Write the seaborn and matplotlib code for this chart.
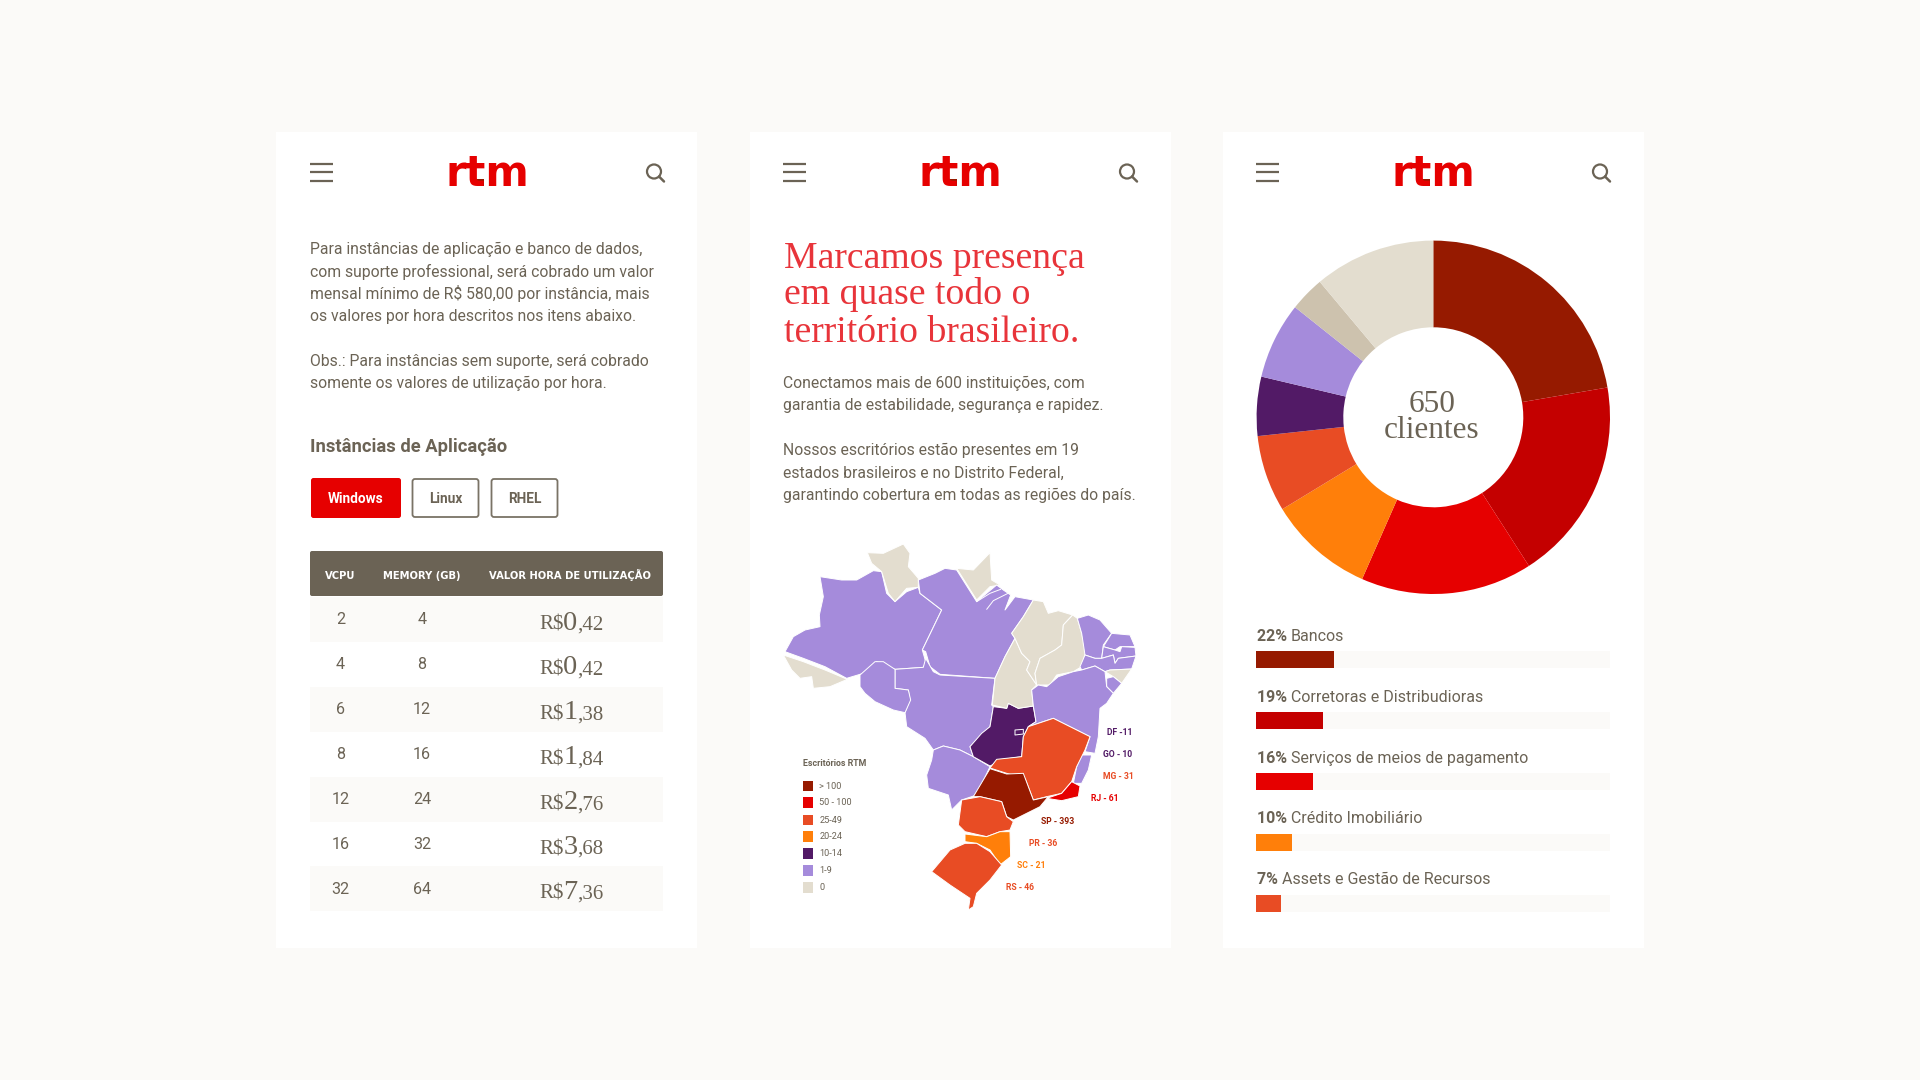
import matplotlib
matplotlib.use('Agg')

import matplotlib.pyplot as plt
import pandas as pd
import seaborn as sns
from matplotlib.patches import Circle, FancyBboxPatch, Polygon, Rectangle

# ====== 1. Colours ======
BG = "#FBFAF8"
TEXT = "#6B6355"
DEEP_RED = "#961A00"
DARK_RED = "#C40000"
RED = "#E60000"
ORANGE = "#FF7F0A"
TOMATO = "#E84C24"
PURPLE = "#521A66"
LILAC = "#A58BDB"
BEIGE = "#E3DDCF"
SAND = "#CDC2AE"

SANS = "Roboto"
SERIF = "Liberation Serif"

# ====== 2. Data ======
# panel 1, pricing table
vcpu = [2, 4, 6, 8, 12, 16, 32]
memory_gb = [4, 8, 12, 16, 24, 32, 64]
price_whole = ["0", "0", "1", "1", "2", "3", "7"]
price_cents = [",42", ",42", ",38", ",84", ",76", ",68", ",36"]
table_headers = ["VCPU", "MEMORY (GB)", "VALOR HORA DE UTILIZAÇÃO"]

# panel 3, donut and bars
donut_values = [22.3, 18.6, 15.7, 9.7, 7.0, 5.4, 7.0, 3.2, 11.1]
donut_colors = [DEEP_RED, DARK_RED, RED, ORANGE, TOMATO, PURPLE, LILAC, SAND, BEIGE]
bar_pct = [22, 19, 16, 10, 7]
bar_names = ["Bancos", "Corretoras e Distribudioras", "Serviços de meios de pagamento",
             "Crédito Imobiliário", "Assets e Gestão de Recursos"]
bar_colors = [DEEP_RED, DARK_RED, RED, ORANGE, TOMATO]

# panel 2, map legend and labels
legend_labels = ["> 100", "50 - 100", "25-49", "20-24", "10-14", "1-9", "0"]
legend_colors = [DEEP_RED, RED, TOMATO, ORANGE, PURPLE, LILAC, BEIGE]
state_labels = ["DF -11", "GO - 10", "MG - 31", "RJ - 61", "SP - 393", "PR - 36", "SC - 21", "RS - 46"]
state_label_colors = [PURPLE, PURPLE, TOMATO, RED, DEEP_RED, TOMATO, ORANGE, TOMATO]

# state outlines
AM = [(75,365),(100,320),(135,300),(180,290),(178,255),(190,200),(180,140),(245,150),(290,150),(340,122),(365,125),(380,190),(405,215),(440,185),(475,172),(480,190),(545,240),(487,360),(497,395),(490,412),(405,418),(350,395),(310,430),(260,445),(195,410),(130,385)]
AC = [(70,375),(130,395),(195,420),(262,448),(210,470),(160,475),(155,440),(120,445),(95,420)]
RR = [(322,68),(370,70),(430,42),(450,70),(445,110),(475,145),(475,172),(440,175),(405,215),(385,190),(365,125),(335,100)]
AP = [(590,115),(640,120),(690,68),(695,150),(720,165),(690,170),(650,210)]
PA = [(475,150),(525,130),(555,115),(590,120),(650,215),(680,190),(710,165),(730,180),(752,195),(735,240),(765,200),(820,210),(790,260),(755,310),(765,325),(735,380),(705,445),(540,433),(510,410),(497,365),(487,360),(545,240),(480,190)]
MT = [(405,418),(490,412),(497,385),(520,425),(540,435),(705,445),(695,525),(700,530),(690,590),(630,650),(640,680),(600,660),(550,648),(520,660),(495,625),(440,590),(435,548),(450,510),(445,480),(405,475)]
RO = [(300,435),(345,395),(370,395),(405,418),(405,475),(445,480),(452,510),(435,548),(400,540),(345,515),(315,490),(300,470)]
MS = [(520,660),(550,648),(600,660),(640,680),(690,710),(650,795),(605,810),(575,840),(565,795),(505,775),(500,735),(515,690)]
GO = [(700,530),(740,535),(745,520),(775,535),(820,528),(828,575),(805,590),(790,620),(785,680),(730,688),(690,708),(640,680),(630,650),(665,610),(690,590)]
TO = [(705,445),(735,380),(765,325),(785,370),(810,395),(800,420),(820,450),(830,465),(815,480),(820,528),(775,535),(745,520),(740,535),(697,525)]
MA = [(755,310),(790,260),(820,210),(850,215),(865,250),(895,242),(938,255),(910,285),(905,345),(885,360),(840,385),(825,430),(830,465),(820,450),(800,420),(810,395),(785,370),(765,325)]
PI = [(938,255),(952,265),(965,310),(977,365),(965,410),(940,425),(890,435),(870,465),(830,465),(825,430),(840,385),(885,360),(905,345),(910,285)]
CE = [(952,265),(985,255),(1020,270),(1055,310),(1030,345),(1025,385),(1005,385),(975,375),(965,310)]
RN = [(1055,310),(1110,315),(1125,350),(1080,350),(1065,360),(1030,350)]
PB = [(1030,350),(1065,360),(1080,365),(1085,350),(1125,352),(1128,378),(1075,385),(1065,400),(1060,375),(1025,385)]
PE = [(975,375),(1005,385),(1025,385),(1060,375),(1065,400),(1075,385),(1128,378),(1115,417),(1050,420),(1035,425),(1005,408),(965,420),(960,410)]
AL = [(1035,425),(1050,420),(1115,417),(1085,460),(1060,440)]
SE = [(1040,445),(1060,440),(1085,460),(1060,490),(1040,470)]
BA = [(815,480),(835,465),(860,470),(895,440),(940,425),(965,420),(1005,408),(1035,425),(1040,470),(1060,490),(1040,520),(1020,535),(1015,620),(1005,670),(975,665),(990,620),(930,590),(880,565),(805,590),(828,575),(820,528)]
ES = [(965,675),(995,675),(985,720),(965,760),(940,760),(950,710)]
MG = [(805,590),(880,565),(930,590),(990,620),(975,660),(950,710),(935,755),(905,790),(860,800),(820,810),(795,745),(740,730),(690,714),(710,688),(785,680),(790,620)]
RJ = [(935,755),(960,768),(955,800),(905,812),(860,805),(905,790)]
SP = [(640,800),(690,716),(740,732),(790,730),(820,810),(865,800),(840,830),(800,850),(760,870),(740,860),(725,815),(660,800)]
PR = [(605,810),(660,800),(725,815),(740,860),(760,875),(750,900),(720,905),(680,920),(615,905),(595,885)]
SC = [(615,912),(680,920),(720,905),(750,905),(752,980),(720,1005),(690,960),(650,940),(615,935)]
RS = [(615,940),(650,940),(690,965),(725,1005),(690,1050),(650,1090),(640,1130),(625,1140),(630,1105),(570,1065),(515,1025),(570,960)]
DF = [(765,600),(790,598),(790,612),(765,615)]

state_shapes = [AM, AC, RR, AP, PA, MT, RO, MS, GO, TO, MA, PI, CE, RN, PB, PE, AL, SE, BA, ES, MG, RJ, SP, PR, SC, RS, DF]
state_colors = [LILAC, BEIGE, BEIGE, BEIGE, LILAC, LILAC, LILAC, LILAC, PURPLE, BEIGE, BEIGE, BEIGE,
                LILAC, LILAC, LILAC, LILAC, BEIGE, LILAC, LILAC, LILAC, TOMATO, RED, DEEP_RED,
                TOMATO, ORANGE, TOMATO, PURPLE]
river_a = [(650,215),(690,190),(722,178)]
river_b = [(680,238),(700,212),(748,188)]

# text blocks
para_1 = ["Para instâncias de aplicação e banco de dados,",
          "com suporte professional, será cobrado um valor",
          "mensal mínimo de R$ 580,00 por instância, mais",
          "os valores por hora descritos nos itens abaixo."]
para_2 = ["Obs.: Para instâncias sem suporte, será cobrado",
          "somente os valores de utilização por hora."]
title_lines = ["Marcamos presença", "em quase todo o", "território brasileiro."]
para_3 = ["Conectamos mais de 600 instituições, com",
          "garantia de estabilidade, segurança e rapidez."]
para_4 = ["Nossos escritórios estão presentes em 19",
          "estados brasileiros e no Distrito Federal,",
          "garantindo cobertura em todas as regiões do país."]

# ====== 3. Figure and pixel canvas ======
sns.set_theme(style="white")
fig = plt.figure(figsize=(19.2, 10.8), dpi=100, facecolor=BG)
page = fig.add_axes([0, 0, 1, 1])
page.set_xlim(0, 1920)
page.set_ylim(1080, 0)
page.axis("off")
renderer = fig.canvas.get_renderer()


def px_axes(x0, y0, x1, y1):
    # axes from pixel corners, y counted from the top
    return fig.add_axes([x0 / 1920, 1 - y1 / 1080, (x1 - x0) / 1920, (y1 - y0) / 1080])


def put(x, y, s, size=11.35, color=TEXT, family=SANS, weight="normal", ha="left"):
    return page.text(x, y, s, fontsize=size, color=color, family=family, weight=weight,
                     ha=ha, va="baseline")


def put_run(x, y, parts):
    # several sizes/weights on one baseline
    for s, kw in parts:
        t = put(x, y, s, **kw)
        x = t.get_window_extent(renderer).x1


# ====== 4. White panels with header ======
for i, dx in enumerate([0, 473, 946]):
    page.add_patch(Rectangle((276 + i * 473.5, 132), 421, 816, fc="white", ec="none"))
    for y in [163.5, 172, 180.5]:
        page.plot([310 + dx, 332.5 + dx], [y, y], color=TEXT, lw=1.6, solid_capstyle="butt")
    page.add_patch(Circle((654 + dx, 171.5), 7, fc="none", ec=TEXT, lw=1.6))
    page.plot([659 + dx, 664 + dx], [176.5, 181.5], color=TEXT, lw=1.8)
    put(487.5 + dx, 185.5, "rtm", size=30, color=RED, family="DejaVu Sans", weight="bold", ha="center")
    page.add_patch(Rectangle((477 + dx, 179), 7, 6.5, fc=DEEP_RED, ec="none"))

# ====== 5. Panel 1: text, buttons, table ======
for y, line in zip([254, 276.5, 299, 321.5], para_1):
    put(310, y, line)
for y, line in zip([366, 388], para_2):
    put(310, y, line)
put(310, 451.5, "Instâncias de Aplicação", size=13.2, weight="bold")

page.add_patch(FancyBboxPatch((311, 478), 90, 40, boxstyle="round,pad=0,rounding_size=2.5", fc=RED, ec="none"))
page.add_patch(FancyBboxPatch((412.5, 479), 66, 38, boxstyle="round,pad=0,rounding_size=2.5", fc="white", ec="#7A7366", lw=1.3))
page.add_patch(FancyBboxPatch((491.5, 479), 66, 38, boxstyle="round,pad=0,rounding_size=2.5", fc="white", ec="#7A7366", lw=1.3))
put(355.5, 503, "Windows", size=9.8, color="white", weight="bold", ha="center")
put(445.5, 503, "Linux", size=9.8, weight="bold", ha="center")
put(524.5, 503, "RHEL", size=9.8, weight="bold", ha="center")

page.add_patch(FancyBboxPatch((310, 551), 353, 45, boxstyle="round,pad=0,rounding_size=2", fc=TEXT, ec="none"))
for cx, head in zip([340.5, 422, 570], table_headers):
    put(cx, 579, head, size=7.2, color="white", family="DejaVu Sans", weight="bold", ha="center")

row_top = 597
row_h = 44.9
for i in range(len(vcpu)):
    y0 = row_top + i * row_h
    if i % 2 == 0:
        page.add_patch(Rectangle((310, y0), 353, row_h, fc=BG, ec="none"))
    put(340.5, y0 + 27.5, str(vcpu[i]), size=11.6, ha="center")
    put(422, y0 + 27.5, str(memory_gb[i]), size=11.6, ha="center")
    put_run(539, y0 + 32.5, [("R$", dict(size=15, family=SERIF)),
                             (price_whole[i], dict(size=20.5, family=SERIF)),
                             (price_cents[i], dict(size=15, family=SERIF))])

# ====== 6. Panel 2: title, text, map ======
for y, line in zip([267.5, 304, 341.5], title_lines):
    put(784, y, line, size=27.2, color="#E8343A", family=SERIF)
for y, line in zip([388, 410], para_3):
    put(783, y, line)
for y, line in zip([455, 477.5, 500], para_4):
    put(783, y, line)

map_ax = px_axes(760, 530, 1160, 930)
map_ax.set_xlim(0, 1200)
map_ax.set_ylim(1200, 0)
map_ax.axis("off")
for shape, col in zip(state_shapes, state_colors):
    map_ax.add_patch(Polygon(shape, closed=True, fc=col, ec="white", lw=0.7, joinstyle="round"))
for river in [river_a, river_b]:
    map_ax.plot(*zip(*river), color="white", lw=0.7)

map_ax.text(128, 708, "Escritórios RTM", fontsize=6.4, color=TEXT, family=SANS, weight="bold", va="baseline")
for y, col, lab in zip([768, 818, 870, 920, 970, 1022, 1072], legend_colors, legend_labels):
    map_ax.add_patch(Rectangle((128, y - 16), 32, 32, fc=col, ec="none"))
    map_ax.text(178, y, lab, fontsize=6.6, color=TEXT, family=SANS, va="center")

label_pos = [(1040, 606), (1028, 672), (1028, 738), (992, 804), (842, 873), (808, 939), (772, 1005), (737, 1071)]
for (x, y), lab, col in zip(label_pos, state_labels, state_label_colors):
    map_ax.text(x, y, lab, fontsize=6.2, color=col, family=SANS, weight="bold", va="center")

# ====== 7. Panel 3: donut and bars ======
donut_ax = px_axes(1433.3 - 176.7, 417.3 - 176.7, 1433.3 + 176.7, 417.3 + 176.7)
donut_ax.pie(donut_values, colors=sns.color_palette(donut_colors), startangle=90, counterclock=False,
             radius=1, wedgeprops=dict(width=1 - 90 / 176.7, linewidth=0))
donut_ax.set_xlim(-1, 1)
donut_ax.set_ylim(-1, 1)
put(1432, 412, "650", size=22.5, family=SERIF, ha="center")
put(1432, 438, "clientes", size=22.5, family=SERIF, ha="center")

bars_df = pd.DataFrame({"name": bar_names, "pct": bar_pct, "track": [100] * len(bar_pct)})
bar_ax = px_axes(1256.2, 629, 1610, 934)
sns.barplot(data=bars_df, y="name", x="track", color=BG, width=0.279, saturation=1, linewidth=0, ax=bar_ax)
sns.barplot(data=bars_df, y="name", x="pct", hue="name", palette=bar_colors, dodge=False, legend=False,
            width=0.279, saturation=1, linewidth=0, ax=bar_ax)
bar_ax.set_xlim(0, 100)
bar_ax.axis("off")
for i, (pct, name) in enumerate(zip(bar_pct, bar_names)):
    put_run(1257, 641 + i * 60.8, [(f"{pct}% ", dict(size=11.5, weight="bold")), (name, dict(size=11.5))])

fig.savefig("out.png", dpi=100)
